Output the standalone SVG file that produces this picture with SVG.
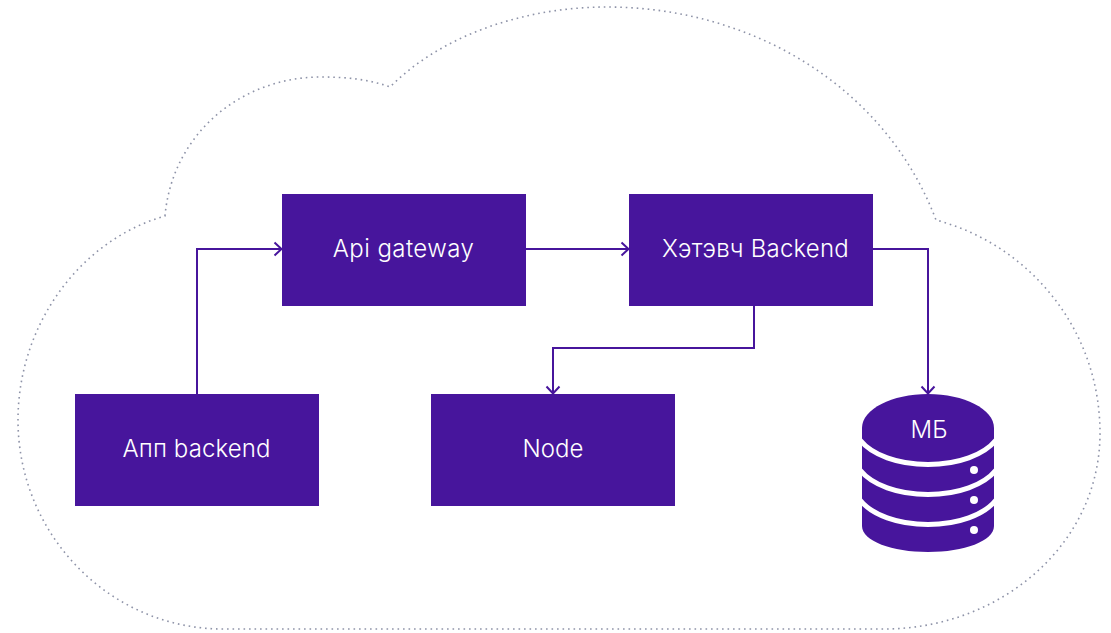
<svg xmlns="http://www.w3.org/2000/svg" width="1111" height="633" viewBox="0 0 1111 633">
<style>
.box{fill:#47159c}
.lbl{font-family:"Inter","Liberation Sans",sans-serif;font-weight:300;font-size:24px;fill:#fff;text-anchor:middle}
.conn{fill:none;stroke:#47159c;stroke-width:2}
.cloud{fill:none;stroke:#8e93a8;stroke-width:1.6;stroke-dasharray:1.6 3.9}
.gap{fill:none;stroke:#fff;stroke-width:5}
</style>
<defs>
<marker id="arr" viewBox="0 0 12 16" markerUnits="userSpaceOnUse" markerWidth="12" markerHeight="16" refX="10.500" refY="8" orient="auto"><path d="M3 1.500L10 8L3 14.500" fill="none" stroke="#47159c" stroke-width="2"/></marker>
</defs>
<rect width="1111" height="633" fill="#fff"/>
<path id="cloud" class="cloud" d="M165 216C172 135 240 77 321 77C345 77 368 79 390 87C445 32 530 7 607 7C750 7 885 85 936 220C1030 245 1100 330 1100 433C1100 545 1000 629 884 629L223 629C110 629 18 535 18 420C18 325 80 240 165 216Z"/>
<g id="connectors">
<path class="conn" marker-end="url(#arr)" d="M197 394V249H282"/>
<path class="conn" marker-end="url(#arr)" d="M526 249H629"/>
<path class="conn" marker-end="url(#arr)" d="M754 306V348H553V394"/>
<path class="conn" marker-end="url(#arr)" d="M873 249H928V394"/>
</g>
<g id="api-gateway"><rect class="box" x="282" y="194" width="244" height="112"/><text class="lbl" x="403.500" y="257" letter-spacing=".45">Api gateway</text></g>
<g id="hetevch-backend"><rect class="box" x="629" y="194" width="244" height="112"/><text class="lbl" x="755.500" y="257" letter-spacing=".2">Хэтэвч Backend</text></g>
<g id="app-backend"><rect class="box" x="75" y="394" width="244" height="112"/><text class="lbl" x="196.500" y="457" letter-spacing=".1">Апп backend</text></g>
<g id="node"><rect class="box" x="431" y="394" width="244" height="112"/><text class="lbl" x="553" y="457">Node</text></g>
<g id="db">
<path class="box" d="M862 428C862 409 892 394 928 394C964 394 994 409 994 428V526C994 541 964 552 928 552C892 552 862 541 862 526Z"/>
<path id="gap1" class="gap" d="M860 440C872 455 898 464.500 928 464.500C958 464.500 984 455 996 440"/>
<path id="gap2" class="gap" d="M860 470C872 485 898 494.500 928 494.500C958 494.500 984 485 996 470"/>
<path id="gap3" class="gap" d="M860 500C872 515 898 524.500 928 524.500C958 524.500 984 515 996 500"/>
<circle cx="974" cy="470" r="4" fill="#fff"/><circle cx="974" cy="500" r="4" fill="#fff"/><circle cx="974" cy="530" r="4" fill="#fff"/>
<text class="lbl" x="929" y="438">МБ</text>
</g>
</svg>
